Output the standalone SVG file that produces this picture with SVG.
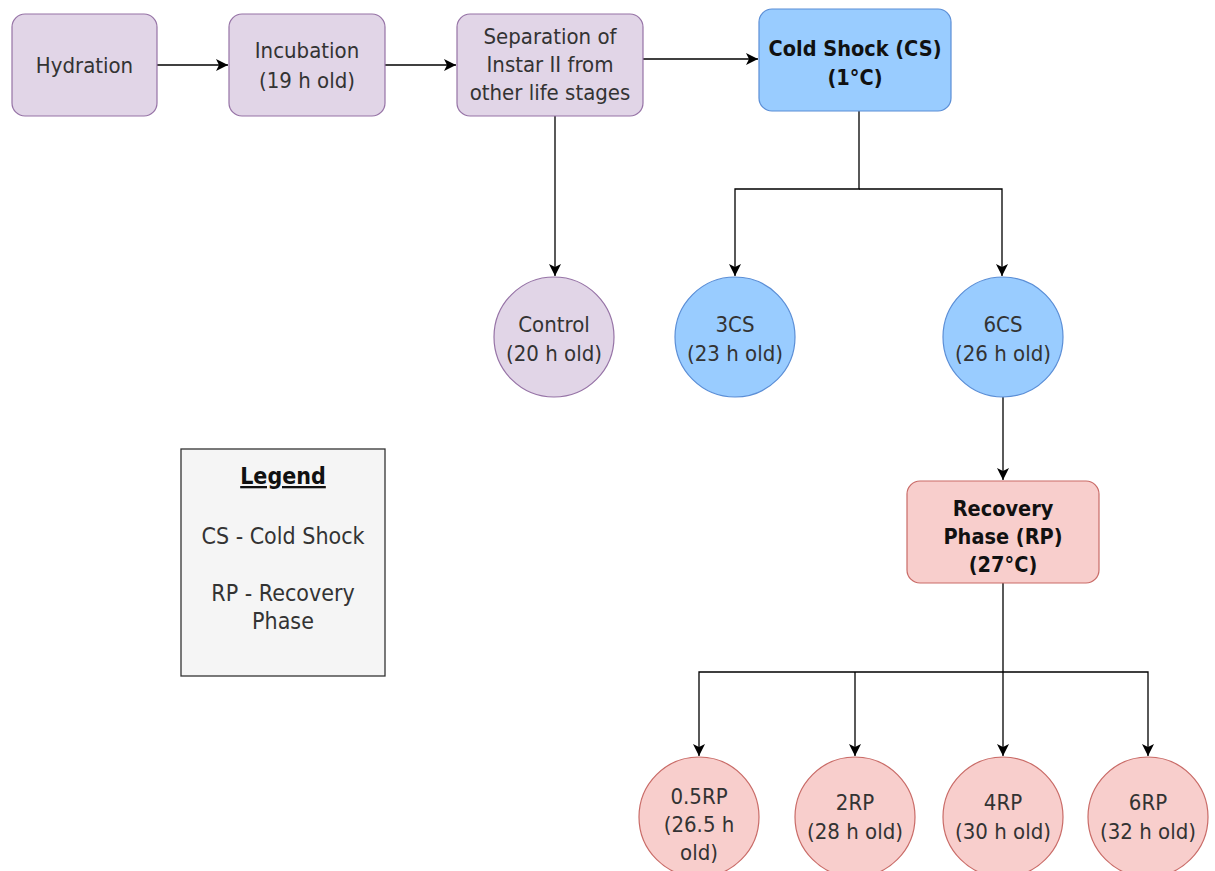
<svg xmlns="http://www.w3.org/2000/svg" width="1215" height="871" viewBox="0 0 1215 871">
<defs>
<marker id="arr" markerWidth="14" markerHeight="14" refX="12" refY="6" orient="auto" markerUnits="userSpaceOnUse">
<path d="M0,0 L12,6 L0,12 L3,6 Z" fill="#000"/>
</marker>
<style>
.p{fill:#e1d5e7;stroke:#9673a6;stroke-width:1.2}
.b{fill:#99ccff;stroke:#5b8ed6;stroke-width:1.2}
.r{fill:#f8cecc;stroke:#c96b67;stroke-width:1.2}
.lg{fill:#f5f5f5;stroke:#333;stroke-width:1.3}
text{font-family:"DejaVu Sans Condensed","DejaVu Sans",Verdana,sans-serif;font-size:22px;fill:#333;text-anchor:middle}
.bd{font-weight:bold;fill:#111;font-size:21.5px}
.l{font-size:23px}
.c{fill:none;stroke:#000;stroke-width:1.3}
</style>
</defs>
<g id="connectors">
<path class="c" d="M157,65 H228" marker-end="url(#arr)"/>
<path class="c" d="M385,65 H456" marker-end="url(#arr)"/>
<path class="c" d="M643,59 H758" marker-end="url(#arr)"/>
<path class="c" d="M555,116 V276" marker-end="url(#arr)"/>
<path class="c" d="M859,111 V189 H735 V276" marker-end="url(#arr)"/>
<path class="c" d="M859,189 H1002 V276" marker-end="url(#arr)"/>
<path class="c" d="M1003,397 V480" marker-end="url(#arr)"/>
<path class="c" d="M1003,583 V756" marker-end="url(#arr)"/>
<path class="c" d="M1003,672 H699 V756" marker-end="url(#arr)"/>
<path class="c" d="M855,672 V756" marker-end="url(#arr)"/>
<path class="c" d="M1003,672 H1148 V756" marker-end="url(#arr)"/>
</g>
<g id="hydration"><rect class="p" x="12" y="14" width="145" height="102" rx="13"/><text x="84.5" y="73">Hydration</text></g>
<g id="incubation"><rect class="p" x="229" y="14" width="156" height="102" rx="13"/><text x="307" y="58">Incubation</text><text x="307" y="88">(19 h old)</text></g>
<g id="separation"><rect class="p" x="457" y="14" width="186" height="102" rx="13"/><text x="550" y="44">Separation of</text><text x="550" y="72">Instar II from</text><text x="550" y="100">other life stages</text></g>
<g id="coldshock"><rect class="b" x="759" y="9" width="192" height="102" rx="13"/><text class="bd" x="855" y="56">Cold Shock (CS)</text><text class="bd" x="855" y="85">(1°C)</text></g>
<g id="control"><circle class="p" cx="554" cy="337" r="60"/><text x="554" y="332">Control</text><text x="554" y="361">(20 h old)</text></g>
<g id="cs3"><circle class="b" cx="735" cy="337" r="60"/><text x="735" y="332">3CS</text><text x="735" y="361">(23 h old)</text></g>
<g id="cs6"><circle class="b" cx="1003" cy="337" r="60"/><text x="1003" y="332">6CS</text><text x="1003" y="361">(26 h old)</text></g>
<g id="recovery"><rect class="r" x="907" y="481" width="192" height="102" rx="13"/><text class="bd" x="1003" y="516">Recovery</text><text class="bd" x="1003" y="544">Phase (RP)</text><text class="bd" x="1003" y="572">(27°C)</text></g>
<g id="rp05"><circle class="r" cx="699" cy="817" r="60"/><text x="699" y="804">0.5RP</text><text x="699" y="832">(26.5 h</text><text x="699" y="860">old)</text></g>
<g id="rp2"><circle class="r" cx="855" cy="817" r="60"/><text x="855" y="810">2RP</text><text x="855" y="839">(28 h old)</text></g>
<g id="rp4"><circle class="r" cx="1003" cy="817" r="60"/><text x="1003" y="810">4RP</text><text x="1003" y="839">(30 h old)</text></g>
<g id="rp6"><circle class="r" cx="1148" cy="817" r="60"/><text x="1148" y="810">6RP</text><text x="1148" y="839">(32 h old)</text></g>
<g id="legend"><rect class="lg" x="181" y="449" width="204" height="227"/><text class="bd l" x="283" y="484" text-decoration="underline">Legend</text><text class="l" x="283" y="544">CS - Cold Shock</text><text class="l" x="283" y="601">RP - Recovery</text><text class="l" x="283" y="629">Phase</text></g>
</svg>
